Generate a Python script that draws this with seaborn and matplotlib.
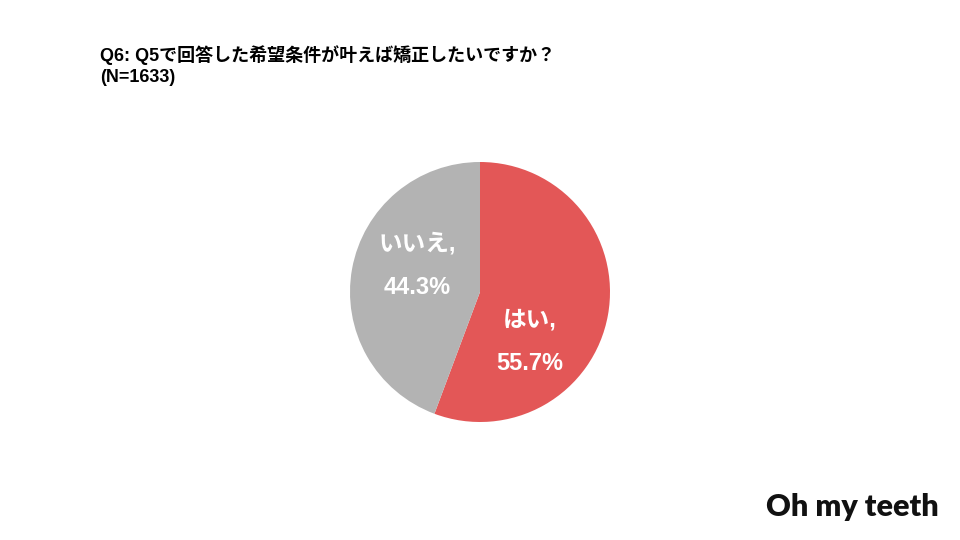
import matplotlib
matplotlib.use("Agg")
import matplotlib.pyplot as plt
import seaborn as sns

sns.set_theme(style="white")
plt.rcParams['font.family'] = ['Liberation Sans', 'Noto Sans CJK JP', 'DejaVu Sans']

categories = ["はい", "いいえ"]
values = [55.7, 44.3]
colors = ["#E35757", "#B3B3B3"]
label_pos = [(0.38, -0.38), (-0.48, 0.20)]
title_line1 = "Q6: Q5で回答した希望条件が叶えば矯正したいですか？"
title_line2 = "(N=1633)"

fig = plt.figure(figsize=(9.6, 5.4), dpi=100)
fig.patch.set_facecolor("white")

cx, cy, r = 480, 292, 130
ax = fig.add_axes([(cx - r) / 960, (540 - cy - r) / 540, 2 * r / 960, 2 * r / 540])

labels = [f"{c},\n{v:.1f}%" for c, v in zip(categories, values)]
wedges, texts = ax.pie(values, colors=colors, startangle=90, counterclock=False,
                       radius=1, wedgeprops=dict(linewidth=0))
for lab, (px, py) in zip(labels, label_pos):
    ax.text(px, py, lab, ha="center", va="center",
            color="white", fontsize=17, fontweight="bold", linespacing=2.15)
ax.set_xlim(-1, 1)
ax.set_ylim(-1, 1)
ax.set_aspect("equal")
ax.axis("off")

fig.text(100 / 960, 1 - 55 / 540, title_line1, fontsize=13, fontweight="bold",
         ha="left", va="center", color="black")
fig.text(100 / 960, 1 - 77 / 540, title_line2, fontsize=13, fontweight="bold",
         ha="left", va="center", color="black")

fig.text(852 / 960, 1 - 507 / 540, "Oh my teeth", fontsize=22, fontweight="heavy",
         family=["Lato", "DejaVu Sans"], ha="center", va="center", color="#111111")

fig.savefig("out.png", dpi=100)
